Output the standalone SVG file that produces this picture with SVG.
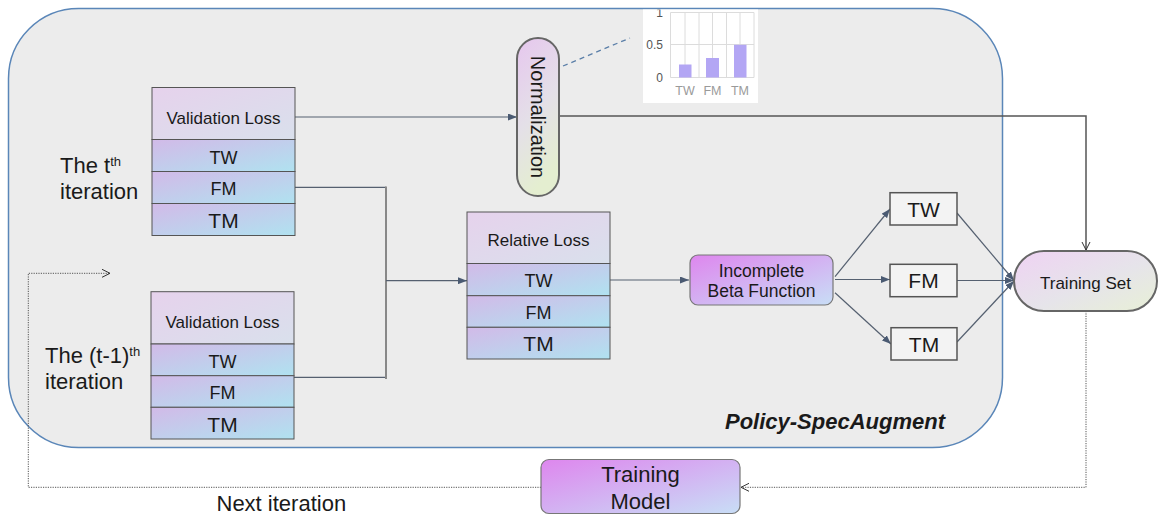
<svg xmlns="http://www.w3.org/2000/svg" width="1158" height="515" viewBox="0 0 1158 515">
<defs>
<linearGradient id="gHead" x1="0" y1="0" x2="1" y2="1"><stop offset="0" stop-color="#e6d2ec"/><stop offset="1" stop-color="#d9e0ec"/></linearGradient>
<linearGradient id="gRow" x1="0" y1="0" x2="1" y2="1"><stop offset="0" stop-color="#d2bae8"/><stop offset="1" stop-color="#b0e2f0"/></linearGradient>
<linearGradient id="gNorm" x1="0" y1="0" x2="0.3" y2="1"><stop offset="0" stop-color="#e6c6ee"/><stop offset="0.55" stop-color="#e4e0e8"/><stop offset="1" stop-color="#e4eed0"/></linearGradient>
<linearGradient id="gBeta" x1="0" y1="0" x2="1" y2="1"><stop offset="0" stop-color="#de86ee"/><stop offset="1" stop-color="#c8def6"/></linearGradient>
<linearGradient id="gSet" x1="0" y1="0" x2="1" y2="1"><stop offset="0" stop-color="#efd2f3"/><stop offset="0.55" stop-color="#e6e4ea"/><stop offset="1" stop-color="#e8f0d6"/></linearGradient>
<clipPath id="chartClip"><rect x="643" y="9.5" width="116" height="94"/></clipPath>
<marker id="arr" viewBox="0 0 9 7" refX="9" refY="3.5" markerWidth="9" markerHeight="7" markerUnits="userSpaceOnUse" orient="auto"><path d="M0,0 L9,3.5 L0,7 z" fill="#4a5a72"/></marker>
<marker id="open" viewBox="0 0 10 10" refX="9" refY="5" markerWidth="10" markerHeight="10" markerUnits="userSpaceOnUse" orient="auto"><path d="M1,1 L9,5 L1,9" fill="none" stroke="#333" stroke-width="1"/></marker>
</defs>
<style>
text{font-family:"Liberation Sans",Arial,sans-serif;fill:#1a1a1a}
.cell{stroke:#555;stroke-width:1}
.hd{font-size:17px;text-anchor:middle}
.tw{font-size:18px;text-anchor:middle}
.tm{font-size:21px;text-anchor:middle}
.lbl{font-size:22px}
.box{fill:#f3f3f3;stroke:#555;stroke-width:1.5}
.bt{font-size:21px;text-anchor:middle}
.ln{fill:none;stroke:#556070;stroke-width:1.2}
.dk{fill:none;stroke:#555;stroke-width:1.5}
.dot{fill:none;stroke:#555;stroke-width:1;stroke-dasharray:1.2 1.2}
.grid{stroke:#dcdcdc;stroke-width:1}
.ax{font-size:12px;fill:#555;text-anchor:end}
.cat{font-size:12.5px;fill:#9a9a9a;text-anchor:middle}
</style>

<g id="policy-specaugment">
<rect x="8.5" y="8.5" width="994" height="439" rx="70" ry="70" fill="#ececec" stroke="#5a86b8" stroke-width="1.5"/>
<text x="945" y="429" font-size="22" font-weight="bold" font-style="italic" text-anchor="end">Policy-SpecAugment</text>
</g>

<g id="chart" clip-path="url(#chartClip)">
<rect x="643" y="0" width="115" height="103" fill="#ffffff"/>
<g class="grid">
<line x1="670.5" y1="12.5" x2="670.5" y2="77.5"/><line x1="685" y1="12.5" x2="685" y2="77.5"/><line x1="699" y1="12.5" x2="699" y2="77.5"/><line x1="712.5" y1="12.5" x2="712.5" y2="77.5"/><line x1="726.5" y1="12.5" x2="726.5" y2="77.5"/><line x1="740" y1="12.5" x2="740" y2="77.5"/><line x1="754" y1="12.5" x2="754" y2="77.5"/>
<line x1="670.5" y1="12.5" x2="754" y2="12.5"/><line x1="670.5" y1="44.5" x2="754" y2="44.5"/><line x1="670.5" y1="77.5" x2="754" y2="77.5"/>
</g>
<rect x="679" y="64.5" width="12.5" height="13" fill="#b3a6f4"/>
<rect x="706" y="58" width="13" height="19.5" fill="#b3a6f4"/>
<rect x="734" y="44.8" width="12.5" height="32.7" fill="#b3a6f4"/>
<text class="ax" x="663" y="16.5">1</text>
<text class="ax" x="663" y="48.5">0.5</text>
<text class="ax" x="663" y="81.5">0</text>
<text class="cat" x="685" y="95">TW</text>
<text class="cat" x="712.5" y="95">FM</text>
<text class="cat" x="740" y="95">TM</text>
</g>

<g id="connectors">
<line x1="563" y1="66" x2="630" y2="38" stroke="#5b7fa8" stroke-width="1.3" stroke-dasharray="5 4"/>
<line class="ln" x1="295" y1="117" x2="517" y2="117" stroke="#555" marker-end="url(#arr)"/>
<polyline class="dk" points="559,116 1086,116 1086,250" marker-end="url(#open)"/>
<line class="ln" stroke="#444" x1="295" y1="187.3" x2="386" y2="187.3"/>
<line class="ln" stroke="#333" x1="294" y1="377.3" x2="386" y2="377.3"/>
<line x1="386" y1="186.5" x2="386" y2="379" stroke="#888" stroke-width="2"/>
<line class="ln" x1="386" y1="280.7" x2="467" y2="280.7" marker-end="url(#arr)"/>
<line class="ln" x1="610" y1="280" x2="689" y2="280" marker-end="url(#arr)"/>
<line class="ln" x1="835" y1="276.7" x2="890" y2="209" marker-end="url(#arr)"/>
<line class="ln" x1="835" y1="279.5" x2="890" y2="279.5" marker-end="url(#arr)"/>
<line class="ln" x1="835" y1="292.7" x2="891" y2="344" marker-end="url(#arr)"/>
<line class="ln" x1="957" y1="213" x2="1014" y2="280.5" marker-end="url(#arr)"/>
<line class="ln" x1="957" y1="280.5" x2="1014" y2="280.5" marker-end="url(#arr)"/>
<line class="ln" x1="957" y1="342" x2="1014" y2="281" marker-end="url(#arr)"/>
<polyline class="dot" points="1086,311 1086,487.3 741,487.3" marker-end="url(#open)"/>
<polyline class="dot" points="541,487.3 28.3,487.3 28.3,273.3 110,273.3" marker-end="url(#open)"/>
</g>

<g id="val-loss-t">
<rect class="cell" x="152" y="87.5" width="143" height="52" fill="url(#gHead)"/>
<rect class="cell" x="152" y="139.5" width="143" height="32" fill="url(#gRow)"/>
<rect class="cell" x="152" y="171.5" width="143" height="32" fill="url(#gRow)"/>
<rect class="cell" x="152" y="203.5" width="143" height="32" fill="url(#gRow)"/>
<text class="hd" x="223.5" y="124">Validation Loss</text>
<text class="tw" x="223.5" y="164">TW</text>
<text class="tw" x="223.5" y="195" font-size="19">FM</text>
<text class="tm" x="223.5" y="228">TM</text>
</g>

<g id="label-t">
<text class="lbl" x="60" y="172.5">The t<tspan font-size="13" dy="-7">th</tspan></text>
<text class="lbl" x="60" y="199.3">iteration</text>
</g>

<g id="val-loss-t-1">
<rect class="cell" x="151" y="291.7" width="143" height="52.3" fill="url(#gHead)"/>
<rect class="cell" x="151" y="344" width="143" height="31.7" fill="url(#gRow)"/>
<rect class="cell" x="151" y="375.7" width="143" height="31.6" fill="url(#gRow)"/>
<rect class="cell" x="151" y="407.3" width="143" height="31.7" fill="url(#gRow)"/>
<text class="hd" x="222.5" y="328">Validation Loss</text>
<text class="tw" x="222.5" y="368">TW</text>
<text class="tw" x="222.5" y="399" font-size="19">FM</text>
<text class="tm" x="222.5" y="431.5">TM</text>
</g>

<g id="label-t-1">
<text class="lbl" x="45" y="363.3">The (t-1)<tspan font-size="13" dy="-7">th</tspan></text>
<text class="lbl" x="45" y="389.3">iteration</text>
</g>

<g id="normalization">
<rect x="517" y="38" width="42" height="158" rx="21" ry="21" fill="url(#gNorm)" stroke="#666" stroke-width="2"/>
<text x="538" y="117" font-size="20" text-anchor="middle" dominant-baseline="central" transform="rotate(90 538 117)">Normalization</text>
</g>

<g id="relative-loss">
<rect class="cell" x="467" y="212" width="143" height="51.5" fill="url(#gHead)"/>
<rect class="cell" x="467" y="263.5" width="143" height="32.2" fill="url(#gRow)"/>
<rect class="cell" x="467" y="295.7" width="143" height="31.6" fill="url(#gRow)"/>
<rect class="cell" x="467" y="327.3" width="143" height="31.7" fill="url(#gRow)"/>
<text class="hd" x="538.5" y="245.5">Relative Loss</text>
<text class="tw" x="538.5" y="287.3">TW</text>
<text class="tw" x="538.5" y="319" font-size="18.5">FM</text>
<text class="tm" x="538.5" y="350.7" font-size="20">TM</text>
</g>

<g id="incomplete-beta">
<rect x="690" y="255" width="143" height="50" rx="8" ry="8" fill="url(#gBeta)" stroke="#777" stroke-width="1.2"/>
<text x="761.5" y="276.7" font-size="17.5" text-anchor="middle">Incomplete</text>
<text x="761.5" y="296.7" font-size="17.5" text-anchor="middle">Beta Function</text>
</g>

<g id="out-tw">
<rect class="box" x="890" y="192.7" width="67" height="32.3"/>
<text class="bt" x="923.5" y="216.5">TW</text>
</g>
<g id="out-fm">
<rect class="box" x="890" y="264.3" width="67" height="32.4"/>
<text class="bt" x="923.5" y="288">FM</text>
</g>
<g id="out-tm">
<rect class="box" x="891" y="327.7" width="66" height="32.3"/>
<text class="bt" x="924" y="351.5">TM</text>
</g>

<g id="training-set">
<rect x="1014" y="251" width="143" height="60" rx="30" ry="30" fill="url(#gSet)" stroke="#666" stroke-width="2"/>
<text x="1085.5" y="289" font-size="17" text-anchor="middle">Training Set</text>
</g>

<g id="training-model">
<rect x="541" y="459.5" width="199" height="54" rx="8" ry="8" fill="url(#gBeta)" stroke="#777" stroke-width="1.2"/>
<text x="640.5" y="482" font-size="22" text-anchor="middle">Training</text>
<text x="640.5" y="508.5" font-size="22" text-anchor="middle">Model</text>
</g>

<g id="next-iteration">
<text x="216.5" y="510.5" font-size="22">Next iteration</text>
</g>
</svg>
